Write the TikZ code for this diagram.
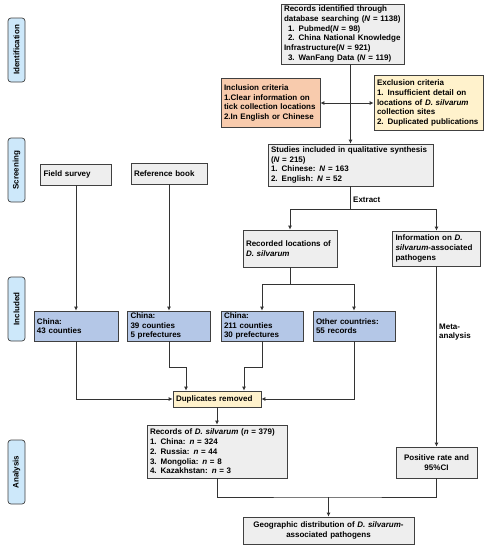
\documentclass[tikz,border=0pt]{standalone}
\usepackage{fontspec}
\setmainfont{Liberation Sans}
\usetikzlibrary{arrows.meta,calc}
\definecolor{boxgray}{HTML}{EEEEEE}
\definecolor{boxblue}{HTML}{B4C7E7}
\definecolor{boxorange}{HTML}{F8CBAD}
\definecolor{boxyellow}{HTML}{FFF2CC}
\definecolor{sidecol}{HTML}{CDE8FA}
\definecolor{linecol}{HTML}{333333}
\definecolor{bordercol}{HTML}{404040}
\tikzset{
  base/.style={draw=bordercol, line width=0.7pt, font=\fontsize{8}{9.7}\selectfont\bfseries,
    inner xsep=3pt, inner ysep=1pt, align=left},
  graybox/.style={base, fill=boxgray},
  bluebox/.style={base, fill=boxblue},
  orangebox/.style={base, fill=boxorange},
  yellowbox/.style={base, fill=boxyellow},
  side/.style={draw=bordercol, line width=0.7pt, fill=sidecol, rounded corners=3pt, rotate=90,
    font=\fontsize{8}{9}\selectfont\bfseries, minimum width=64pt, minimum height=17pt, inner sep=0pt},
  conn/.style={draw=linecol, line width=0.8pt},
  arr/.style={conn, -{Latex[length=4pt,width=4pt]}},
  lbl/.style={font=\fontsize{8}{9.7}\selectfont\bfseries, align=left, inner sep=0pt}
}
\begin{document}
\begin{tikzpicture}[x=1pt,y=-1pt]
\useasboundingbox (0,0) rectangle (491,550);
% side labels
\node[side] (sid) at (16.5,50) {Identification};
\node[side] (sscr) at (16.5,170) {Screening};
\node[side] (sinc) at (16.5,309) {Included};
\node[side] (sana) at (16.5,472) {Analysis};
% boxes
\node[graybox, text width=117pt, minimum height=60pt] (records) at (342.5,34)
 {Records identified through\\database searching (\textit{N} = 1138)\\\hspace*{4pt}1. Pubmed(\textit{N} = 98)\\\hspace*{4pt}2. China National Knowledge\\Infrastructure(\textit{N} = 921)\\\hspace*{4pt}3. WanFang Data (\textit{N} = 119)};
\node[orangebox, text width=93pt, minimum height=49pt] (incl) at (270.5,103)
 {Inclusion criteria\\1.Clear information on\\tick collection locations\\2.In English or Chinese};
\node[yellowbox, text width=103pt, minimum height=55pt] (excl) at (428.5,103)
 {Exclusion criteria\\1. Insufficient detail on\\locations of \textit{D. silvarum}\\collection sites\\2. Duplicated publications};
\node[graybox, text width=159pt, minimum height=42pt] (studies) at (350.5,165)
 {Studies included in qualitative synthesis\\(\textit{N} = 215)\\1. Chinese: \textit{N} = 163\\2. English: \textit{N} = 52};
\node[graybox, text width=65pt, minimum height=21pt] (field) at (76,174.5) {Field survey};
\node[graybox, text width=70pt, minimum height=21pt] (refbook) at (169,173.5) {Reference book};
\node[graybox, text width=88pt, minimum height=37pt] (recorded) at (290,248.5)
 {Recorded locations of\\\textit{D. silvarum}};
\node[graybox, text width=82pt, minimum height=35pt] (info) at (436.5,248.5)
 {Information on \textit{D.}\\\textit{silvarum}-associated\\pathogens};
\node[bluebox, text width=78pt, minimum height=30pt] (china43) at (76,326) {China:\\43 counties};
\node[bluebox, text width=77pt, minimum height=30pt] (china39) at (169,326) {China:\\39 counties\\5 prefectures};
\node[bluebox, text width=76pt, minimum height=30pt] (china211) at (262,326) {China:\\211 counties\\30 prefectures};
\node[bluebox, text width=76pt, minimum height=30pt] (other) at (354,326) {Other countries:\\55 records};
\node[yellowbox, text width=82pt, minimum height=16pt] (dup) at (217,399) {Duplicates removed};
\node[graybox, text width=134pt, minimum height=53pt] (recD) at (217,451.5)
 {Records of \textit{D. silvarum} (\textit{n} = 379)\\1. China: \textit{n} = 324\\2. Russia: \textit{n} = 44\\3. Mongolia: \textit{n} = 8\\4. Kazakhstan: \textit{n} = 3};
\node[graybox, text width=75pt, minimum height=31pt, align=center] (pos) at (436.5,462.5)
 {Positive rate and\\95\%CI};
\node[graybox, text width=165pt, minimum height=27pt, align=center] (geo) at (328.5,530.5)
 {Geographic distribution of \textit{D. silvarum}-\\associated pathogens};
% labels
\node[lbl, anchor=west] (extract) at (353,200) {Extract};
\node[lbl, anchor=west] (meta) at (439,332) {Meta-\\analysis};
% connectors
\draw[arr] (studies.north |- records.south) -- (studies.north);
\coordinate (mid) at (350.5,103);
\draw[arr] (mid) -- (incl.east);
\draw[arr] (mid) -- (excl.west);
\coordinate (ext) at (350.5,209);
\draw[conn] (studies.south) -- (ext);
\draw[arr] (ext) -| (recorded.north);
\draw[arr] (ext) -| (info.north);
\draw[arr] (field.south) -- (china43.north);
\draw[arr] (refbook.south) -- (china39.north);
\coordinate (rj) at (290,284);
\draw[conn] (recorded.south) -- (rj);
\draw[arr] (rj) -| (china211.north);
\draw[arr] (rj) -| (other.north);
\draw[arr] (china43.south) |- (dup.west);
\draw[arr] (china39.south) -- ++(0,26) -| ([xshift=-31pt]dup.north);
\draw[arr] (china211.south) -- ++(0,26) -| ([xshift=27pt]dup.north);
\draw[arr] (other.south) |- (dup.east);
\draw[arr] (dup.south) -- (recD.north);
\draw[arr] (info.south) -- (pos.north);
\coordinate (gj) at (328.5,497);
\draw[conn] (recD.south) |- (gj) -| (pos.south);
\draw[arr] (gj) -- (geo.north);
\end{tikzpicture}
\end{document}
